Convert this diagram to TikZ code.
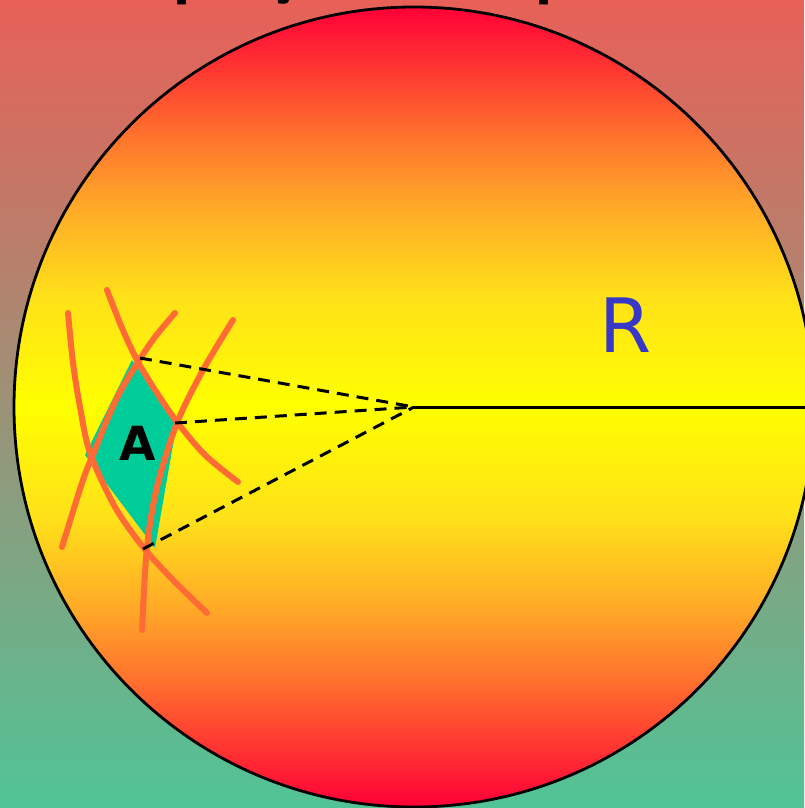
\documentclass[tikz,border=0pt]{standalone}
\usepackage{fontspec}
\setmainfont{DejaVu Sans}
\definecolor{BgTop}{RGB}{232, 96, 88}
\definecolor{BgBottom}{RGB}{80, 196, 150}
\definecolor{SphereRed}{RGB}{255, 0, 55}
\definecolor{SphereOrange}{RGB}{255, 115, 45}
\definecolor{SphereAmber}{RGB}{255, 170, 40}
\definecolor{SphereGold}{RGB}{255, 225, 25}
\definecolor{SphereYellow}{RGB}{255, 255, 0}
\definecolor{PatchTeal}{RGB}{0, 204, 153}
\definecolor{GridOrange}{RGB}{255, 107, 53}
\definecolor{RadiusBlue}{RGB}{55, 55, 200}
\usepackage{tikz}
\usetikzlibrary{positioning}
\pgfdeclareverticalshading{sphereshade}{100bp}{
  color(0bp)=(SphereRed); color(25bp)=(SphereRed);
  color(33.1bp)=(SphereOrange); color(37.5bp)=(SphereAmber);
  color(43.1bp)=(SphereGold); color(50bp)=(SphereYellow);
  color(56.9bp)=(SphereGold); color(62.5bp)=(SphereAmber);
  color(66.9bp)=(SphereOrange); color(75bp)=(SphereRed);
  color(100bp)=(SphereRed)}
\tikzset{
  sphere/.style={draw=black, line width=2.8pt, shade, shading=sphereshade},
  patch/.style={fill=PatchTeal, draw=none},
  gridarc/.style={draw=GridOrange, line width=6pt, line cap=round},
  ray/.style={draw=black, line width=3pt, dash pattern=on 12pt off 8pt},
  radiusline/.style={draw=black, line width=3pt},
  titletext/.style={font=\bfseries\fontsize{50}{50}\selectfont, text=black, inner sep=0pt},
  patchlabel/.style={font=\bfseries\fontsize{47}{47}\selectfont, text=black},
  radiuslabel/.style={font=\fontsize{75}{75}\selectfont, text=RadiusBlue},
}
\begin{document}
\begin{tikzpicture}[x=1pt, y=-1pt]
  \useasboundingbox (0,0) rectangle (804,808);
  \shade[top color=BgTop, bottom color=BgBottom] (0,0) rectangle (804,808);

  \node[titletext, anchor=base west] (title) at (29,-5) {Uma porção da superfície};

  \coordinate (O) at (414,407);
  \coordinate (E) at (814,407);
  \path[sphere] (O) circle[radius=400];

  \path[patch] (132,360) -- (177,422) -- (155,548) -- (85,455) -- cycle;

  % arcs of the grid on the sphere
  \draw[gridarc] plot[smooth] coordinates {(68,313) (73,363) (80,407) (90,453) (115,507) (143,547) (173,580) (207,613)};
  \draw[gridarc] plot[smooth] coordinates {(107,290) (122,328) (138,362) (157,393) (177,422) (205,455) (238,482)};
  \draw[gridarc] plot[smooth] coordinates {(175,313) (155,337) (138,362) (120,392) (107,420) (95,450) (83,480) (62,547)};
  \draw[gridarc] plot[smooth] coordinates {(233,320) (203,370) (177,423) (157,487) (147,547) (142,630)};

  \coordinate (top) at (140,358);
  \coordinate (right) at (175,423);
  \coordinate (bottom) at (143,549);

  \draw[ray] (top) -- (O);
  \draw[ray] (right) -- (O);
  \draw[ray] (bottom) -- (O);
  \draw[radiusline] (O) -- (E);

  \node[patchlabel] (A) at (138,443) {A};
  \node[radiuslabel] (R) at (626,325) {R};
\end{tikzpicture}
\end{document}
